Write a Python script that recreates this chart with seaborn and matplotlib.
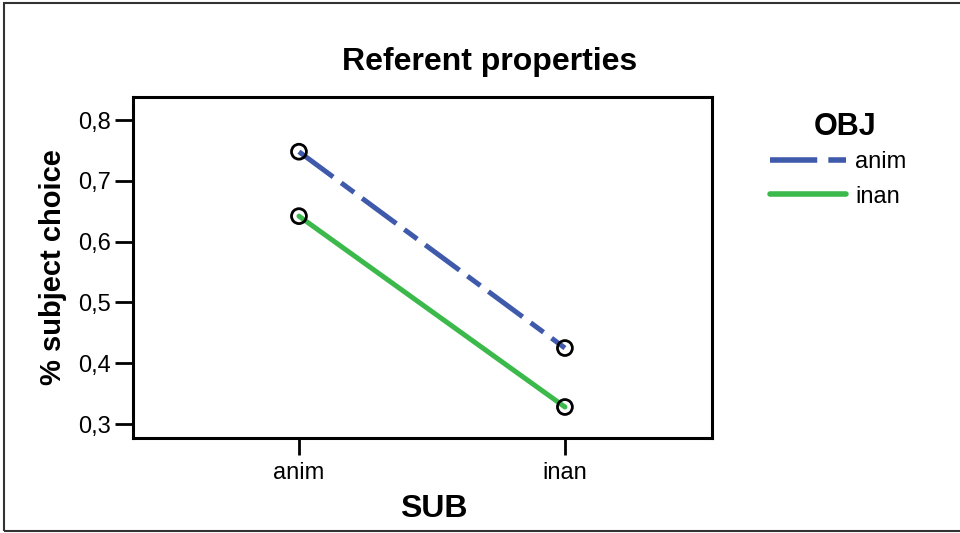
import matplotlib
matplotlib.use("Agg")
import matplotlib.pyplot as plt
from matplotlib.ticker import FuncFormatter, FixedLocator
from matplotlib.patches import Rectangle
import seaborn as sns
import pandas as pd

# Data
sub_levels = ["anim", "inan"]
obj_levels = ["anim", "inan"]
obj_anim_values = [0.748, 0.425]
obj_inan_values = [0.642, 0.328]
y_ticks = [0.3, 0.4, 0.5, 0.6, 0.7, 0.8]

df = pd.DataFrame({
    "SUB": sub_levels * 2,
    "OBJ": ["anim"] * 2 + ["inan"] * 2,
    "value": obj_anim_values + obj_inan_values,
})

sns.set_theme(style="white")
plt.rcParams["font.family"] = ["Liberation Sans", "DejaVu Sans"]
plt.rcParams["text.color"] = "black"
plt.rcParams["axes.labelcolor"] = "black"
plt.rcParams["axes.titlecolor"] = "black"

fig = plt.figure(figsize=(9.6, 5.33), dpi=100)
ax = fig.add_axes([133/960, (533-438)/533, (712-133)/960, (438-97)/533])

palette = {"anim": "#3f5aab", "inan": "#3cb94b"}
sns.lineplot(data=df, x="SUB", y="value", hue="OBJ", style="OBJ",
             hue_order=obj_levels, style_order=obj_levels,
             palette=palette, dashes={"anim": (8.5, 2.0, 3.2, 2.0), "inan": ""},
             linewidth=3.6, ax=ax, legend=True, sort=False)
sns.scatterplot(data=df, x="SUB", y="value", marker="o", s=115,
                facecolors="none", edgecolor="black", linewidth=2,
                ax=ax, legend=False, zorder=5)

ax.set_xlim(-0.624, 1.553)
ax.set_ylim(0.277, 0.838)
ax.yaxis.set_major_locator(FixedLocator(y_ticks))
ax.yaxis.set_major_formatter(FuncFormatter(lambda v, p: f"{v:.1f}".replace(".", ",")))

for s in ax.spines.values():
    s.set_visible(True)
    s.set_linewidth(2.2)
    s.set_color("black")

ax.tick_params(axis="both", which="major", direction="out", width=2,
               color="black", labelsize=17, labelcolor="black",
               left=True, bottom=True)
ax.tick_params(axis="y", length=13, pad=3)
ax.tick_params(axis="x", length=12, pad=5)

ax.set_xlabel("SUB", fontsize=23, fontweight="bold")
ax.xaxis.set_label_coords((434-133)/579, -0.165)
ax.set_ylabel("% subject choice", fontsize=21, fontweight="bold", labelpad=8)
fig.text(490/960, 1 - 62/533, "Referent properties", fontsize=23,
         fontweight="bold", ha="center", va="center")

handles, labels = ax.get_legend_handles_labels()
leg = fig.legend(handles, labels, frameon=False,
                 loc="upper left", bbox_to_anchor=(770/960, 1 - 151/533),
                 bbox_transform=fig.transFigure, borderpad=0, borderaxespad=0,
                 fontsize=17,
                 handlelength=3.2, handletextpad=0.42, labelspacing=0.53)
ax.get_legend().remove()
for h in leg.get_lines():
    h.set_linewidth(4)
fig.text(845/960, 1 - 127/533, "OBJ", fontsize=22, fontweight="bold",
         ha="center", va="center")

fig.patches.append(Rectangle((4/960, 2/533), 1.0, (531-3)/533,
                             transform=fig.transFigure, fill=False,
                             edgecolor="#333333", linewidth=1.5))

fig.savefig("out.png", dpi=100)
